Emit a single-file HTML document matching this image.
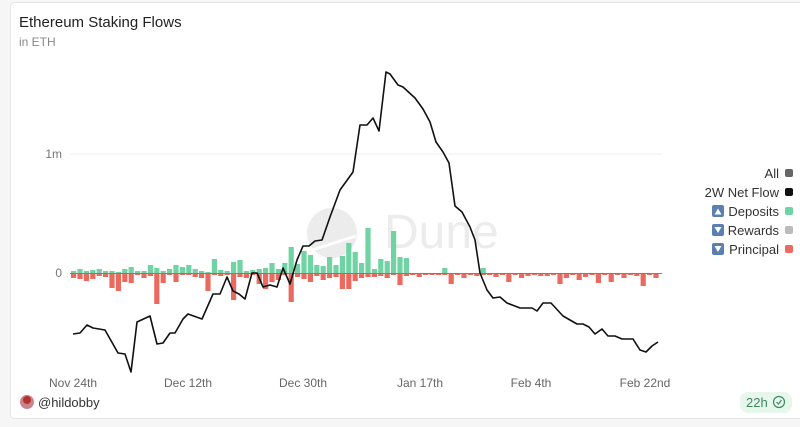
<!DOCTYPE html>
<html><head><meta charset="utf-8"><style>
body{margin:0;width:800px;height:422px;background:#f6f6f6;font-family:"Liberation Sans",sans-serif;overflow:hidden}
</style></head><body>
<svg width="800" height="422" xmlns="http://www.w3.org/2000/svg" font-family="Liberation Sans, sans-serif">
<rect x="10.5" y="2.5" width="800" height="416" rx="4" fill="#fff" stroke="#e6e6e6"/>
<text x="19" y="27" font-size="15" fill="#222">Ethereum Staking Flows</text>
<text x="19" y="46" font-size="12" fill="#888">in ETH</text>
<line x1="70" y1="154" x2="662" y2="154" stroke="#eee" stroke-width="1"/>
<text x="62" y="158" font-size="12" fill="#777" text-anchor="end">1m</text>
<text x="62" y="277" font-size="12" fill="#777" text-anchor="end">0</text>
<circle cx="332" cy="233" r="25" fill="#ececec"/>
<line x1="312" y1="250" x2="356" y2="236" stroke="#fff" stroke-width="3"/>
<text x="384" y="248" font-size="48" fill="#ececec">Dune</text>
<g id="bars"></g>
<line x1="70" y1="273.5" x2="662" y2="273.5" stroke="#a07070" stroke-width="1"/>
<polyline fill="none" stroke="#111" stroke-width="1.6" stroke-linejoin="round" points="73,334 80,333 87,325 93,328 105,330 118,353 125,354 131,372 137,322 150,316 157,344 163,343 170,333 175,333 183,319 188,314 202,319 213,294 220,294 227,277 233,291 239,294 245,299 252,273 257,273 263,287 270,285 277,287 283,268 290,284 297,260 303,246 309,246 315,241 322,240 330,217 340,190 353,172 360,125 367,125 373,118 379,131 386,72 390,74 398,85 403,87 415,98 423,109 430,122 436,142 443,152 449,163 455,206 462,212 470,227 475,240 480,273 487,290 493,298 500,297 507,303 520,308 532,308 537,311 543,303 551,303 563,316 577,324 583,324 589,327 595,334 602,329 608,336 615,336 622,339 633,339 640,350 646,352 652,346 658,342"/>
<g font-size="12" fill="#666" text-anchor="middle">
<text x="73" y="387">Nov 24th</text><text x="188" y="387">Dec 12th</text><text x="303" y="387">Dec 30th</text><text x="420" y="387">Jan 17th</text><text x="531" y="387">Feb 4th</text><text x="645" y="387">Feb 22nd</text>
</g>
<g font-size="13" fill="#333" text-anchor="end">
<text x="779" y="178">All</text><text x="779" y="197">2W Net Flow</text><text x="779" y="216">Deposits</text><text x="779" y="235">Rewards</text><text x="779" y="254">Principal</text>
</g>
<rect x="785" y="169" width="8" height="8" rx="2" fill="#666"/>
<rect x="785" y="188" width="8" height="8" rx="2" fill="#111"/>
<rect x="785" y="207" width="8" height="8" rx="2" fill="#6fd3a4"/>
<rect x="785" y="226" width="8" height="8" rx="2" fill="#bbb"/>
<rect x="785" y="245" width="8" height="8" rx="2" fill="#ea6a60"/>
<rect x="712" y="205" width="12" height="12" rx="2" fill="#5b7fae"/><path d="M714.5 214.5 L718 208.5 L721.5 214.5Z" fill="#fff"/>
<rect x="712" y="224" width="12" height="12" rx="2" fill="#5b7fae"/><path d="M714.5 227 L718 233 L721.5 227Z" fill="#fff"/>
<rect x="712" y="243" width="12" height="12" rx="2" fill="#5b7fae"/><path d="M714.5 246 L718 252 L721.5 246Z" fill="#fff"/>
<circle cx="27" cy="402" r="7" fill="#c9838d"/><circle cx="27" cy="400" r="4" fill="#b3342e"/>
<text x="38" y="407" font-size="13" fill="#333">@hildobby</text>
<rect x="740" y="392" width="52" height="21" rx="8" fill="#e8f7ee"/>
<text x="746" y="407" font-size="13" fill="#3a8a5e">22h</text>
<circle cx="779" cy="402" r="5.5" fill="none" stroke="#3a8a5e" stroke-width="1.2"/>
<path d="M776.5 402 L778.5 404 L781.5 400" fill="none" stroke="#3a8a5e" stroke-width="1.2"/>
</svg>
<script>
var g={0:2,1:4,2:2,3:3,4:4,5:2,6:2,7:1,8:4,9:6,10:2,11:2,12:8,13:5,14:2,15:4,16:8,17:6,18:8,19:4,20:2,21:1,22:14,23:3,24:2,25:11,26:13,27:2,28:3,29:4,30:5,31:10,32:4,33:10,34:26,35:9,36:22,37:18,38:8,39:7,40:16,41:8,42:17,43:30,44:21,45:10,46:45,47:4,48:14,49:12,50:42,51:16,52:15,58:5,64:5};
var r={0:4,1:5,2:7,3:5,4:2,5:3,6:14,7:17,8:8,9:9,11:4,12:2,13:30,14:9,16:8,19:3,20:4,21:17,23:2,25:26,26:3,27:4,29:10,30:15,31:8,32:6,34:28,35:3,36:5,37:8,38:2,39:6,40:4,41:3,42:15,43:15,44:7,45:4,46:3,47:3,48:2,49:4,51:11,52:2,54:3,59:10,61:4,63:2,66:3,68:8,70:4,71:2,73:2,74:2,76:10,77:4,79:6,80:3,82:9,84:8,86:4,88:2,89:12,91:4};
var s='';for(var i=0;i<92;i++){var x=(71+6.4*i).toFixed(1);
if(g[i])s+='<rect x="'+x+'" y="'+(273-g[i])+'" width="5.2" height="'+g[i]+'" fill="#6fd3a4"/>';
var h=(r[i]||1);s+='<rect x="'+x+'" y="274" width="5.2" height="'+h+'" fill="#ea6a60"/>';}
document.getElementById('bars').innerHTML=s;
</script>
</body></html>
